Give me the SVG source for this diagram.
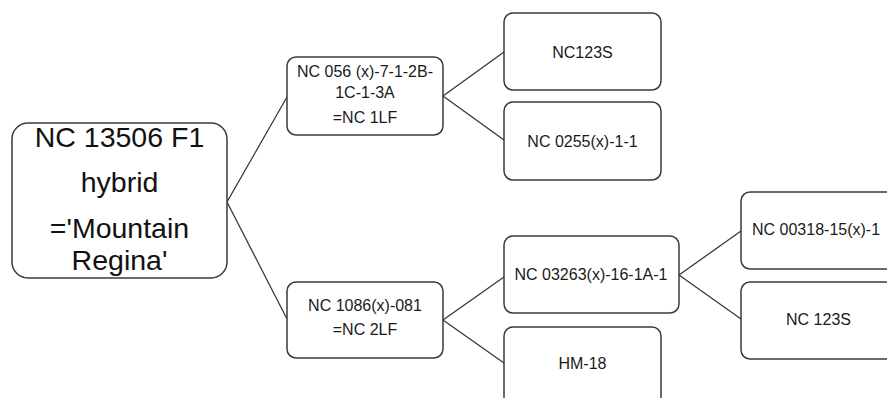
<svg xmlns="http://www.w3.org/2000/svg" width="887" height="398" viewBox="0 0 887 398">
  <style>
    .box { fill: #ffffff; stroke: #3a3a3a; stroke-width: 1.5; }
    .link { fill: none; stroke: #3a3a3a; stroke-width: 1.3; }
    text { font-family: "Liberation Sans", Arial, sans-serif; fill: #1a1a1a; text-anchor: middle; }
    .big { font-size: 28.5px; fill: #111111; }
    .small { font-size: 16px; }
  </style>
  <rect width="887" height="398" fill="#ffffff"/>

  <!-- connectors -->
  <g id="connectors">
    <polyline class="link" points="287,97 227,202 287,319"/>
    <polyline class="link" points="504,52 443,96 504,140"/>
    <polyline class="link" points="504,277 443,320 504,363"/>
    <polyline class="link" points="741,231 679,275 741,319"/>
  </g>

  <!-- root hybrid -->
  <g id="root">
    <rect class="box" x="12" y="123" width="215" height="155" rx="16"/>
    <text class="big" x="119.5" y="147">NC 13506 F1</text>
    <text class="big" x="119.5" y="192">hybrid</text>
    <text class="big" x="119.5" y="238">='Mountain</text>
    <text class="big" x="119.5" y="270">Regina'</text>
  </g>

  <!-- first-generation parents -->
  <g id="nc056">
    <rect class="box" x="287" y="57" width="156" height="78" rx="9"/>
    <text class="small" x="365" y="77">NC 056 (x)-7-1-2B-</text>
    <text class="small" x="365" y="98">1C-1-3A</text>
    <text class="small" x="365" y="123">=NC 1LF</text>
  </g>
  <g id="nc1086">
    <rect class="box" x="287" y="282" width="156" height="76" rx="9"/>
    <text class="small" x="365" y="311">NC 1086(x)-081</text>
    <text class="small" x="365" y="335">=NC 2LF</text>
  </g>

  <!-- second generation -->
  <g id="nc123s-a">
    <rect class="box" x="504" y="13" width="157" height="77" rx="9"/>
    <text class="small" x="582.5" y="58">NC123S</text>
  </g>
  <g id="nc0255">
    <rect class="box" x="504" y="102" width="157" height="78" rx="9"/>
    <text class="small" x="582.5" y="147">NC 0255(x)-1-1</text>
  </g>
  <g id="nc03263">
    <rect class="box" x="504" y="236" width="175" height="77" rx="9"/>
    <text class="small" x="591" y="280">NC 03263(x)-16-1A-1</text>
  </g>
  <g id="hm18">
    <rect class="box" x="504" y="327" width="157" height="90" rx="9"/>
    <text class="small" x="582.5" y="369">HM-18</text>
  </g>

  <!-- third generation -->
  <g id="nc00318">
    <rect class="box" x="741" y="192" width="175" height="77" rx="9"/>
    <text class="small" x="752" y="235" style="text-anchor:start">NC 00318-15(x)-1</text>
  </g>
  <g id="nc123s-b">
    <rect class="box" x="741" y="282" width="175" height="77" rx="9"/>
    <text class="small" x="818.5" y="325">NC 123S</text>
  </g>
</svg>
